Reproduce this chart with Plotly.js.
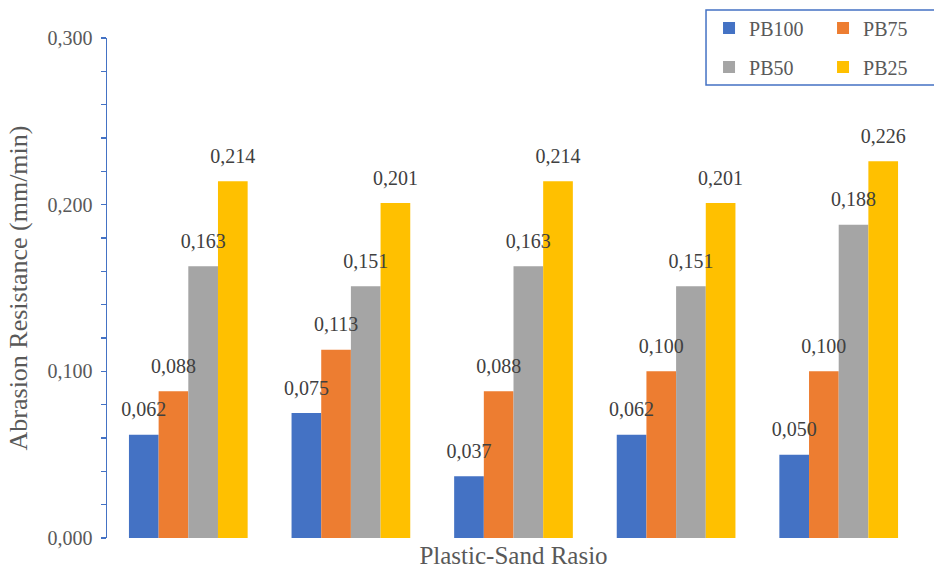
<!DOCTYPE html>
<html>
<head>
<meta charset="utf-8">
<script src="https://cdn.plot.ly/plotly-3.0.1.min.js"></script>
<style>html,body{margin:0;padding:0;background:#fff;}#chart{width:934px;height:572px;}</style>
</head>
<body>
<div id="chart"></div>
<script>
const categories = ["1", "2", "3", "4", "5"];
const seriesNames = ["PB100", "PB75", "PB50", "PB25"];
const pb100 = [0.062, 0.075, 0.037, 0.062, 0.050];
const pb75  = [0.088, 0.113, 0.088, 0.100, 0.100];
const pb50  = [0.163, 0.151, 0.163, 0.151, 0.188];
const pb25  = [0.214, 0.201, 0.214, 0.201, 0.226];
const colors = ["#4472C4", "#ED7D31", "#A5A5A5", "#FFC000"];
const yTickVals = [0, 0.1, 0.2, 0.3];
const yTickText = ["0,000", "0,100", "0,200", "0,300"];

const FONT = "'Liberation Serif', 'Times New Roman', Times, 'DejaVu Serif', serif";
const values = [pb100, pb75, pb50, pb25];
const legendOf = ["legend", "legend", "legend2", "legend2"];

const barTraces = values.map((v, i) => ({
  type: "bar",
  x: categories,
  y: v,
  name: seriesNames[i],
  legend: legendOf[i],
  marker: {color: colors[i]},
  hoverinfo: "none"
}));

// value labels drawn on top of all bars
const labelTraces = values.map((v, i) => ({
  type: "scatter",
  mode: "markers+text",
  x: categories,
  y: v,
  name: seriesNames[i] + " label",
  showlegend: false,
  marker: {size: 20, opacity: 0, color: colors[i]},
  text: v.map(d => d.toFixed(3).replace(".", ",")),
  textposition: "top center",
  cliponaxis: false,
  textfont: {family: FONT, size: 20, color: "#404040"},
  hoverinfo: "none"
}));

const legendCommon = {
  orientation: "h", xanchor: "left", yanchor: "middle",
  entrywidth: 69, entrywidthmode: "pixels",
  bgcolor: "rgba(0,0,0,0)", borderwidth: 0,
  font: {family: FONT, size: 20, color: "#595959"},
  traceorder: "normal"
};

const layout = {
  width: 934, height: 572,
  margin: {l: 107, r: 14, t: 38, b: 34, autoexpand: false},
  paper_bgcolor: "#fff", plot_bgcolor: "#fff",
  font: {family: FONT, color: "#595959"},
  barmode: "group",
  bargap: 0.27,
  bargroupgap: 0,
  scattermode: "group",
  scattergap: 0.27,
  xaxis: {
    showticklabels: false, ticks: "", showline: false, showgrid: false, zeroline: false,
    title: {text: "Plastic-Sand Rasio", font: {family: FONT, size: 25, color: "#595959"}, standoff: 8}
  },
  yaxis: {
    range: [0, 0.3], showgrid: false, zeroline: false,
    showline: true, linecolor: "#4472C4", linewidth: 1.5,
    tickvals: yTickVals, ticktext: yTickText,
    ticks: "outside", ticklen: 5, tickcolor: "#4472C4", tickwidth: 1.5,
    ticklabelstandoff: 4,
    minor: {dtick: 0.02, ticks: "outside", ticklen: 5, tickcolor: "#4472C4", tickwidth: 1.5, showgrid: false},
    tickfont: {family: FONT, size: 20, color: "#595959"},
    title: {text: "Abrasion Resistance (mm/min)", font: {family: FONT, size: 26, color: "#595959"}, standoff: 12}
  },
  legend: Object.assign({}, legendCommon, {x: 0.7405, y: 1.02}),
  legend2: Object.assign({}, legendCommon, {x: 0.7405, y: 0.942}),
  shapes: [{
    type: "rect", xref: "paper", yref: "paper",
    x0: 0.7368, x1: 1.03, y0: 0.906, y1: 1.056,
    line: {color: "#4472C4", width: 1.5}, fillcolor: "rgba(0,0,0,0)", layer: "above"
  }],
  showlegend: true
};

Plotly.newPlot("chart", barTraces.concat(labelTraces), layout, {displayModeBar: false, staticPlot: true});
</script>
</body>
</html>
